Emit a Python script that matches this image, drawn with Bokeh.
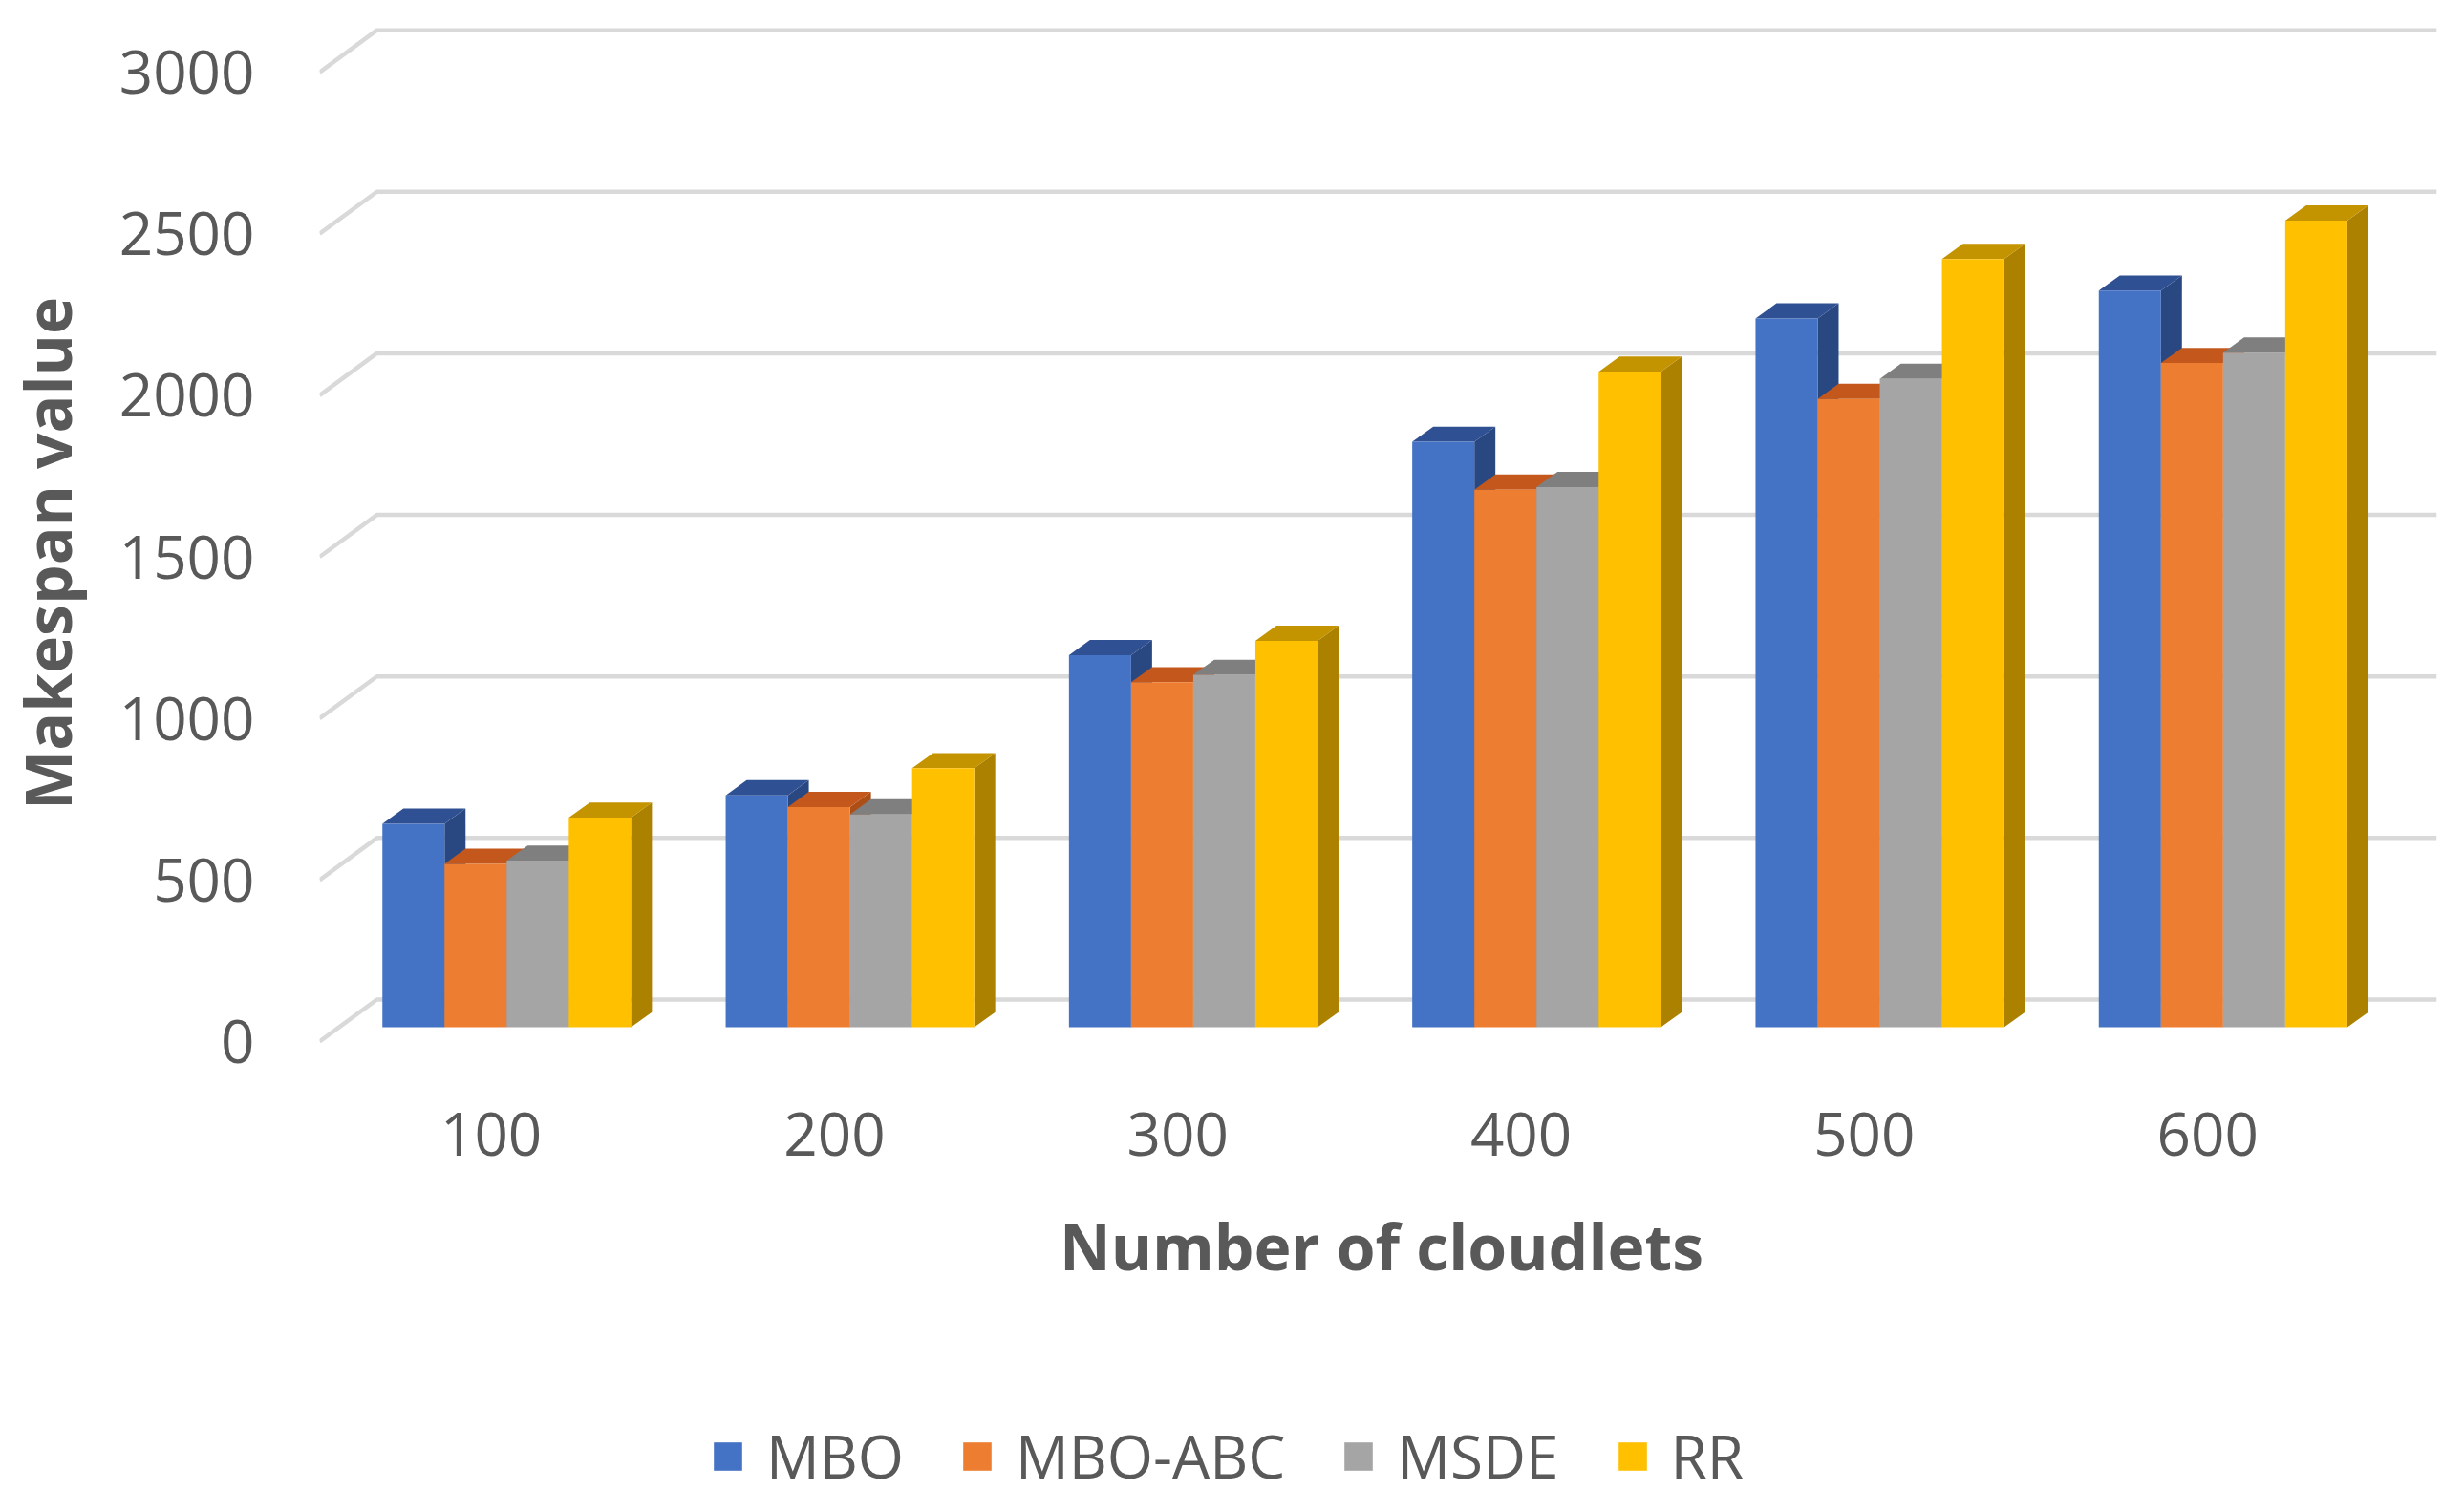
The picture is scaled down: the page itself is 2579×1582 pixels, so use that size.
from bokeh.plotting import figure
from bokeh.layouts import column
from bokeh.models import FixedTicker, Legend, LegendItem
from bokeh.embed import file_html
from bokeh.resources import INLINE

# ---- data ----
cloudlets = ["100", "200", "300", "400", "500", "600"]
series_names = ["MBO", "MBO-ABC", "MSDE", "RR"]
mbo = [630, 718, 1152, 1812, 2194, 2280]
mbo_abc = [506, 682, 1068, 1664, 1945, 2056]
msde = [516, 659, 1091, 1672, 2007, 2088]
rr = [649, 802, 1196, 2029, 2378, 2497]
y_ticks = [0, 500, 1000, 1500, 2000, 2500, 3000]

series_values = [mbo, mbo_abc, msde, rr]
front_colors = ["#4472C4", "#ED7D31", "#A5A5A5", "#FFC000"]
top_colors = ["#2F5092", "#C4581C", "#7F7F7F", "#C49300"]
side_colors = ["#294781", "#AE4E17", "#737373", "#AD8100"]

# ---- faux-3D geometry (styling) ----
bar_w = 0.181        # width of one column, in category units
front_dx, front_dy = 0.045, 44     # columns sit a little behind the front edge
bar_dx, bar_dy = 0.0612, 47        # column depth
wall_dx, wall_dy = 0.1669, 130     # back wall depth
txt = "#595959"
font = "Open Sans"

n = len(cloudlets)
p = figure(width=2563, height=1400, output_backend="svg", toolbar_location=None,
           x_range=(0, n + 0.187), y_range=(-136, 3157),
           min_border_left=332, min_border_right=6, min_border_top=22,
           min_border_bottom=264)
p.outline_line_color = None
p.xgrid.visible = False
p.ygrid.visible = False
p.background_fill_color = "white"

# legend strip below the chart
lg = figure(width=2563, height=166, output_backend="svg", toolbar_location=None,
            x_range=(-20, -19), y_range=(-20, -19),
            x_axis_location=None, y_axis_location=None,
            min_border=0)
lg.outline_line_color = None
lg.xgrid.visible = False
lg.ygrid.visible = False

# gridlines on the back wall + slant on the side
gx, gy = [], []
for v in y_ticks:
    gx.append([0, wall_dx, n + wall_dx])
    gy.append([v, v + wall_dy, v + wall_dy])
p.multi_line(gx, gy, line_color="#D9D9D9", line_width=4.5)

legend_items = []
group_off = (1 - 4 * bar_w) / 2 + front_dx
for s, vals in enumerate(series_values):
    lefts = [i + group_off + s * bar_w for i in range(n)]
    rights = [l + bar_w for l in lefts]
    side_xs, side_ys, top_xs, top_ys = [], [], [], []
    for l, r, v in zip(lefts, rights, vals):
        side_xs.append([r, r + bar_dx, r + bar_dx, r])
        side_ys.append([front_dy, front_dy + bar_dy, v + front_dy + bar_dy, v + front_dy])
        top_xs.append([l, r, r + bar_dx, l + bar_dx])
        top_ys.append([v + front_dy, v + front_dy, v + front_dy + bar_dy, v + front_dy + bar_dy])
    p.patches(side_xs, side_ys, fill_color=side_colors[s], line_color=None)
    p.patches(top_xs, top_ys, fill_color=top_colors[s], line_color=None)
    tops = [v + front_dy for v in vals]
    p.quad(left=lefts, right=rights, bottom=[front_dy] * n, top=tops,
           fill_color=front_colors[s], line_color=None)
    # same series in the legend strip (outside its visible range) for the key
    key = lg.quad(left=lefts, right=rights, bottom=[front_dy] * n, top=tops,
                  fill_color=front_colors[s], line_color=None)
    legend_items.append(LegendItem(label=series_names[s], renderers=[key]))

# axes
p.xaxis.ticker = FixedTicker(ticks=[i + 0.5 for i in range(n)])
p.xaxis.major_label_overrides = {i + 0.5: c for i, c in enumerate(cloudlets)}
p.yaxis.ticker = FixedTicker(ticks=y_ticks)
for ax in (p.xaxis[0], p.yaxis[0]):
    ax.axis_line_color = None
    ax.major_tick_line_color = None
    ax.minor_tick_line_color = None
    ax.major_tick_out = 0
    ax.major_label_text_font = font
    ax.major_label_text_font_size = "62px"
    ax.major_label_text_color = txt
    ax.axis_label_text_font = font
    ax.axis_label_text_font_size = "66px"
    ax.axis_label_text_font_style = "bold"
    ax.axis_label_text_color = txt
p.xaxis.axis_label = "Number of cloudlets"
p.yaxis.axis_label = "Makespan value"
p.xaxis.major_label_standoff = 28
p.xaxis.axis_label_standoff = 46
p.yaxis.major_label_standoff = 68
p.yaxis.axis_label_standoff = 28

legend = Legend(items=legend_items, orientation="horizontal", location=(409, 0),
                glyph_width=37, glyph_height=37, label_height=37,
                label_standoff=22, spacing=58, padding=0, margin=0,
                label_text_font=font, label_text_font_size="62px",
                label_text_line_height=1.0,
                label_text_color=txt, border_line_color=None,
                background_fill_alpha=0)
lg.add_layout(legend, "center")

layout = column(p, lg, spacing=0)
open("out.html", "w").write(file_html(layout, INLINE))
